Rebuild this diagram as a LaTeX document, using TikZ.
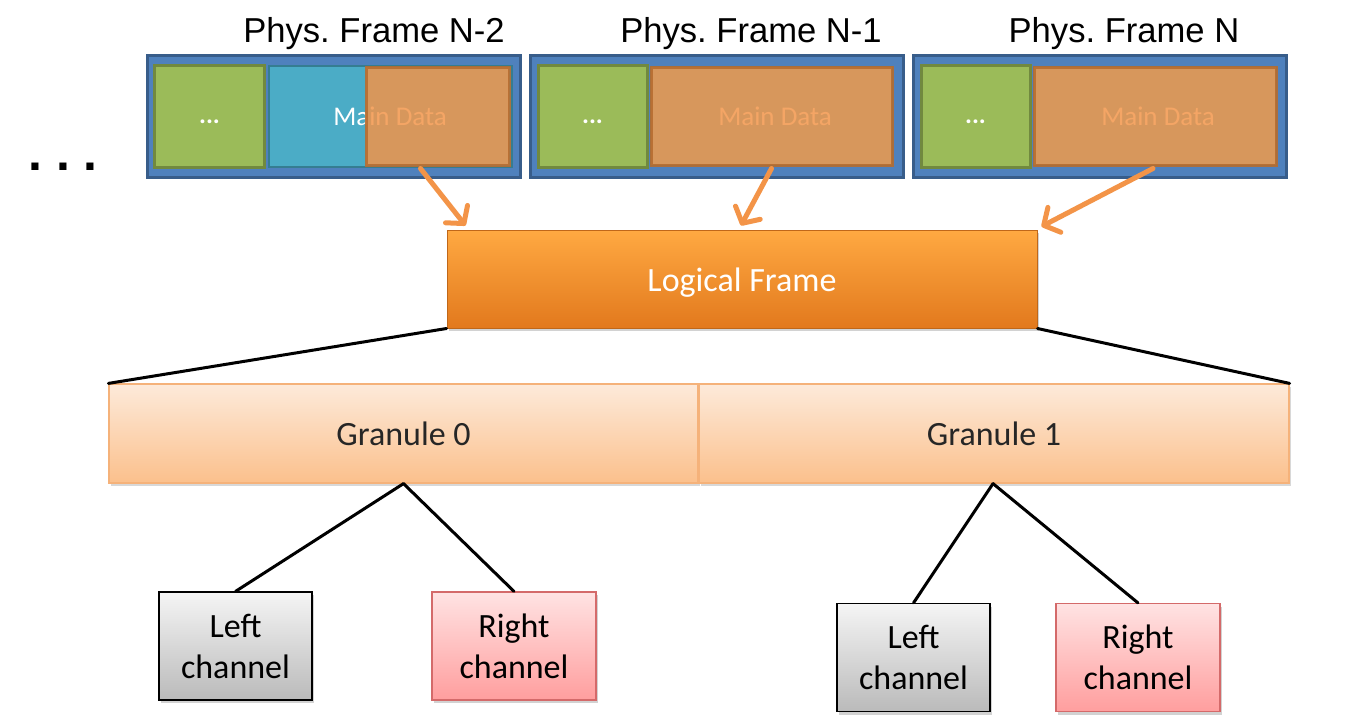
\documentclass[tikz,border=0pt]{standalone}
\usepackage{fontspec}
\setmainfont{Carlito}
\newfontfamily\arialf{Liberation Sans}
\usetikzlibrary{arrows.meta,shadows,calc}
\frenchspacing
\definecolor{frameblue}{HTML}{4F81BD}
\definecolor{framedk}{HTML}{385D8A}
\definecolor{grn}{HTML}{9BBB59}
\definecolor{grndk}{HTML}{71893F}
\definecolor{cyn}{HTML}{4BACC6}
\definecolor{cyndk}{HTML}{357D91}
\definecolor{org}{HTML}{F39448}
\definecolor{orgdk}{HTML}{B66D31}
\definecolor{lftop}{HTML}{FFA942}
\definecolor{lfbot}{HTML}{E2791D}
\definecolor{grtop}{HTML}{FDEADA}
\definecolor{grbot}{HTML}{FBC08C}
\definecolor{grbd}{HTML}{F5B27A}
\definecolor{pktop}{HTML}{FFE3E3}
\definecolor{pkbot}{HTML}{FF9E9E}
\definecolor{pkbd}{HTML}{D46A6A}
\tikzset{
  frm/.style={draw=framedk, line width=3pt, fill=frameblue, inner sep=0pt},
  grnbox/.style={draw=grndk, line width=3pt, fill=grn, inner sep=0pt},
  gdots/.style={text=white, font=\bfseries\fontsize{26}{28}\selectfont, anchor=base, inner sep=0pt},
  cynbox/.style={draw=cyndk, line width=2pt, fill=cyn, inner sep=0pt},
  orgbox/.style={draw=orgdk, line width=3pt, fill=org, fill opacity=0.84, draw opacity=0.9, inner sep=0pt},
  mdtext/.style={text=white, font=\fontsize{27}{29}\selectfont},
  title/.style={font=\arialf\fontsize{34.6}{36}\selectfont, anchor=base, inner sep=0pt},
  oarrow/.style={draw=org, line width=5pt, line cap=round, -{Straight Barb[length=12pt,width=28pt,round]}},
  logic/.style={draw=lfbot!85!black, line width=1pt, top color=lftop, bottom color=lfbot,
     inner sep=0pt, minimum width=590, minimum height=98,
     drop shadow={opacity=0.35, shadow xshift=2pt, shadow yshift=-3pt}},
  lftext/.style={text=white, font=\fontsize{34}{36}\selectfont, inner sep=0pt},
  gran/.style={draw=grbd, line width=1.2pt, top color=grtop, bottom color=grbot, text=black!85,
     font=\fontsize{34}{36}\selectfont, inner sep=0pt, minimum height=99,
     drop shadow={opacity=0.3, shadow xshift=2pt, shadow yshift=-3pt}},
  leftch/.style={draw=black, line width=1.2pt, top color=black!4, bottom color=black!27, text=black,
     font=\fontsize{34}{41}\selectfont, align=center, inner sep=0pt, minimum width=153, minimum height=108,
     drop shadow={opacity=0.35, shadow xshift=2pt, shadow yshift=-3pt}},
  rightch/.style={draw=pkbd, line width=1.2pt, top color=pktop, bottom color=pkbot, text=black,
     font=\fontsize{34}{41}\selectfont, align=center, inner sep=0pt, minimum width=164, minimum height=108,
     drop shadow={opacity=0.35, shadow xshift=2pt, shadow yshift=-3pt}},
  blk/.style={draw=black, line width=3pt, line cap=round}
}
\begin{document}
\begin{tikzpicture}[x=1pt,y=-1pt]
\useasboundingbox[fill=white] (0,0) rectangle (1349,728);

% ellipsis at left
\node[font=\arialf\bfseries\fontsize{50}{52}\selectfont, anchor=base, inner sep=0pt] (dots) at (63,170) {. . .};

% titles
\node[title] (t1) at (374,42) {Phys. Frame N-2};
\node[title] (t2) at (751,42) {Phys. Frame N-1};
\node[title] (t3) at (1124,42) {Phys. Frame N};

% frame 1
\node[frm, minimum width=373, minimum height=122] (f1) at (334,116.5) {};
\node[grnbox, minimum width=110, minimum height=102] (g1) at (209.5,116) {};
\node[gdots] (d1) at (209.5,123) {...};
\node[cynbox, minimum width=243, minimum height=101] (c1) at (390,116) {};
\node[mdtext] (m1) at (c1.center) {Main Data};
\node[orgbox, minimum width=143, minimum height=98] (o1) at (437.5,116) {};

% frame 2
\node[frm, minimum width=373, minimum height=122] (f2) at (716.5,116.5) {};
\node[grnbox, minimum width=109, minimum height=102] (g2) at (592.5,116) {};
\node[gdots] (d2) at (592.5,123) {...};
\node[cynbox, minimum width=241, minimum height=98] (c2) at (771.5,116) {};
\node[mdtext] (m2) at (775,116) {Main Data};
\node[orgbox, minimum width=241, minimum height=98] (o2) at (771.5,116) {};

% frame 3
\node[frm, minimum width=373, minimum height=122] (f3) at (1099.5,116.5) {};
\node[grnbox, minimum width=109, minimum height=102] (g3) at (975.5,116) {};
\node[gdots] (d3) at (975.5,123) {...};
\node[cynbox, minimum width=242, minimum height=98] (c3) at (1155,116) {};
\node[mdtext] (m3) at (1158,116) {Main Data};
\node[orgbox, minimum width=242, minimum height=98] (o3) at (1155,116) {};

% logical frame
\node[logic] (lf) at (742,279) {};
\node[lftext] (lft) at (742,283) {Logical Frame};

% arrows
\draw[oarrow] ($(o1.south)+(-17,2)$) -- ($(lf.north west)+(19,-4)$);
\draw[oarrow] ($(o2.south)+(0,2)$) -- ($(lf.north)+(-1,-4)$);
\draw[oarrow] ($(o3.south)+(-2,2)$) -- ($(lf.north east)+(4,-3)$);

% granules
\node[gran, minimum width=589] (gr0) at (403.5,433.5) {Granule 0};
\node[gran, minimum width=590] (gr1) at (994,433.5) {Granule 1};

% black lines from logical frame
\draw[blk] (lf.south west) -- (gr0.north west);
\draw[blk] (lf.south east) -- (gr1.north east);

% channels
\node[leftch] (l0) at (235.5,646) {Left\\channel};
\node[rightch] (r0) at (514,646) {Right\\channel};
\node[leftch] (l1) at (913.5,657.5) {Left\\channel};
\node[rightch] (r1) at (1138,657.5) {Right\\channel};

\draw[blk] (gr0.south) -- (l0.north);
\draw[blk] (gr0.south) -- (r0.north);
\draw[blk] ($(gr1.south)+(-1,0)$) -- (l1.north);
\draw[blk] ($(gr1.south)+(-1,0)$) -- (r1.north);
\end{tikzpicture}
\end{document}
